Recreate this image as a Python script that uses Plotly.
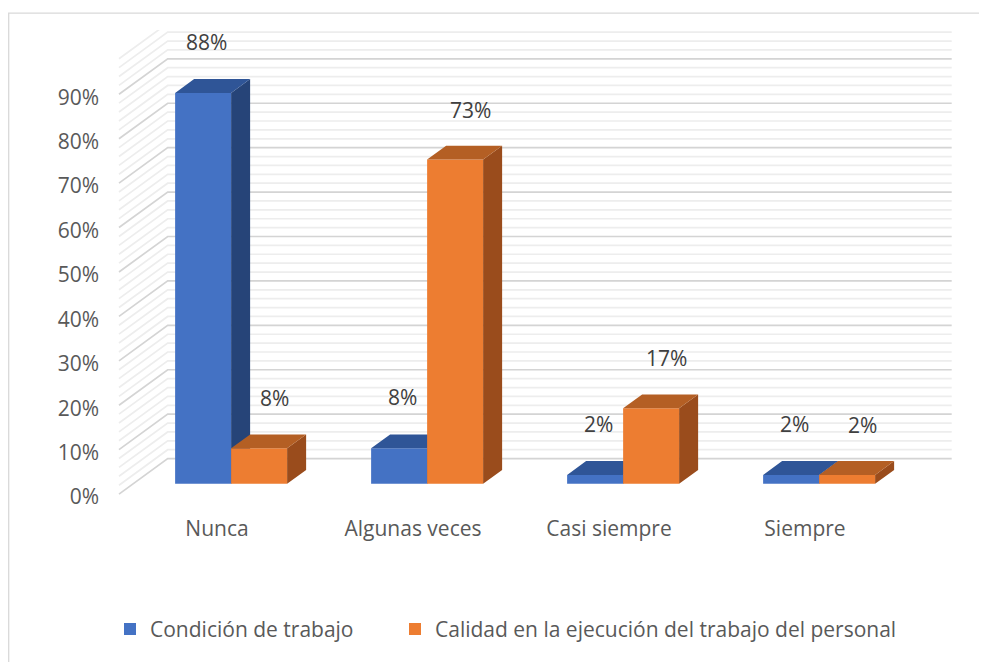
import plotly.graph_objects as go

# ---------------- data ----------------
categories = ["Nunca", "Algunas veces", "Casi siempre", "Siempre"]
series_names = ["Condición de trabajo", "Calidad en la ejecución del trabajo del personal"]
condicion = [88, 8, 2, 2]
calidad = [8, 73, 17, 2]
y_ticks = [0, 10, 20, 30, 40, 50, 60, 70, 80, 90]
y_tick_labels = ["0%", "10%", "20%", "30%", "40%", "50%", "60%", "70%", "80%", "90%"]

# ---------------- geometry ----------------
OFF = 8                      # default page body margin in the browser
W, H = 987 - OFF, 662 - OFF  # figure size so that it fills the window
# pixel positions below are given in window coordinates, converted with OFF
PLOT_L, PLOT_R, PLOT_T, PLOT_B = 118 - OFF, 967 - OFF, 30 - OFF, 510 - OFF
CAT0_PX, CAT_PX = 217 - OFF, 196
ZERO_PX, PCT_PX = 497 - OFF, 4.47
x_range = [(PLOT_L - CAT0_PX) / CAT_PX, (PLOT_R - CAT0_PX) / CAT_PX]
y_range = [(ZERO_PX - PLOT_B) / PCT_PX, (ZERO_PX - PLOT_T) / PCT_PX]

FLOOR_L, FLOOR_R = -0.5, len(categories) - 0.5
WALL_DX, WALL_DY = 48.7 / CAT_PX, 35.7 / PCT_PX
BAR_F, BAR_D = 0.29, 0.39
DX0, DY0 = BAR_F * WALL_DX, BAR_F * WALL_DY
DDX, DDY = BAR_D * WALL_DX, BAR_D * WALL_DY
BAR_W = 56 / CAT_PX

FONT = "Open Sans, Liberation Sans, sans-serif"
FS = 21
TXT = "#595959"
LBL = "#404040"

blue = dict(front="#4472C4", top="#2F5597", side="#264478")
orange = dict(front="#ED7D31", top="#B45F24", side="#9A4C1C")

fig = go.Figure()

# ---------------- walls (gridlines) ----------------
minor_ticks = [v + k for v in y_ticks for k in (2, 4, 6, 8)]


def wall_lines(levels):
    xs, ys = [], []
    for v in levels:
        xs += [FLOOR_L, FLOOR_L + WALL_DX, FLOOR_R + WALL_DX, None]
        ys += [v, v + WALL_DY, v + WALL_DY, None]
    return xs, ys


mx, my = wall_lines(minor_ticks)
fig.add_trace(go.Scatter(x=mx, y=my, mode="lines", line=dict(color="#EDEDED", width=1.7),
                         showlegend=False, hoverinfo="skip", xaxis="x", yaxis="y"))
Mx, My = wall_lines(y_ticks)
fig.add_trace(go.Scatter(x=Mx, y=My, mode="lines", line=dict(color="#D4D4D4", width=1.7),
                         showlegend=False, hoverinfo="skip", xaxis="x", yaxis="y"))


# ---------------- bars ----------------
def add_series(values, name, col, offset, xa, ya, lw):
    idx = list(range(len(values)))
    fig.add_trace(go.Bar(x=idx, y=values, base=DY0, width=BAR_W, offset=offset,
                         marker=dict(color=col["front"], line=dict(width=0)),
                         name=name, legendwidth=lw, xaxis=xa, yaxis=ya, hoverinfo="skip"))
    tx, ty, sx, sy = [], [], [], []
    for i, v in enumerate(values):
        x0 = i + offset
        x1 = x0 + BAR_W
        t = DY0 + v
        tx += [x0, x1, x1 + DDX, x0 + DDX, x0, None]
        ty += [t, t, t + DDY, t + DDY, t, None]
        sx += [x1, x1, x1 + DDX, x1 + DDX, x1, None]
        sy += [DY0, t, t + DDY, DY0 + DDY, DY0, None]
    fig.add_trace(go.Scatter(x=sx, y=sy, mode="lines", fill="toself", fillcolor=col["side"],
                             line=dict(width=0, color=col["side"]), showlegend=False,
                             hoverinfo="skip", xaxis=xa, yaxis=ya))
    fig.add_trace(go.Scatter(x=tx, y=ty, mode="lines", fill="toself", fillcolor=col["top"],
                             line=dict(width=0, color=col["top"]), showlegend=False,
                             hoverinfo="skip", xaxis=xa, yaxis=ya))


add_series(condicion, series_names[0], blue, DX0 - BAR_W, "x2", "y2", 240)
add_series(calidad, series_names[1], orange, DX0, "x3", "y3", 480)

# ---------------- data labels ----------------
annotations = []
for vals, off, xs, ys in [(condicion, DX0 - BAR_W, 3, 51), (calidad, DX0, 15, 50)]:
    for i, v in enumerate(vals):
        annotations.append(dict(x=i + off + BAR_W / 2, y=DY0 + v, xref="x", yref="y",
                                text=f"{v}%", showarrow=False, xshift=xs, yshift=ys,
                                font=dict(family=FONT, size=FS, color=LBL)))

pw, ph = PLOT_R - PLOT_L, PLOT_B - PLOT_T
shapes = [dict(type="rect", xref="paper", yref="paper",
               x0=(0.7 - PLOT_L) / pw, x1=(W + 10 - PLOT_L) / pw,
               y0=(PLOT_B - (H + 20)) / ph, y1=(PLOT_B - (13 - OFF)) / ph,
               line=dict(color="#D9D9D9", width=1.3), fillcolor="rgba(0,0,0,0)", layer="below")]

hidden = dict(visible=False, showgrid=False, zeroline=False)
fig.update_layout(
    width=W, height=H,
    margin=dict(l=PLOT_L, r=W - PLOT_R, t=PLOT_T, b=H - PLOT_B),
    paper_bgcolor="white", plot_bgcolor="rgba(0,0,0,0)",
    font=dict(family=FONT, size=FS, color=TXT),
    xaxis=dict(range=x_range, tickvals=list(range(len(categories))), ticktext=categories,
               showgrid=False, zeroline=False, showline=False, ticks="", ticklabelstandoff=7,
               tickfont=dict(size=FS, color=TXT)),
    yaxis=dict(range=y_range, tickvals=y_ticks, ticktext=y_tick_labels,
               showgrid=False, zeroline=False, showline=False, ticks="", ticklabelstandoff=18,
               ticklabelshift=3, tickfont=dict(size=FS, color=TXT)),
    xaxis2=dict(overlaying="x", range=x_range, **hidden),
    yaxis2=dict(overlaying="y", range=y_range, **hidden),
    xaxis3=dict(overlaying="x", range=x_range, **hidden),
    yaxis3=dict(overlaying="y", range=y_range, **hidden),
    showlegend=True,
    legend=dict(orientation="h", x=(110 - OFF - PLOT_L) / pw, xanchor="left",
                y=(PLOT_B - (633 - OFF)) / ph, yanchor="middle",
                font=dict(size=FS, color=TXT), bgcolor="rgba(0,0,0,0)"),
    annotations=annotations,
    shapes=shapes,
)

fig.write_html("out.html")
